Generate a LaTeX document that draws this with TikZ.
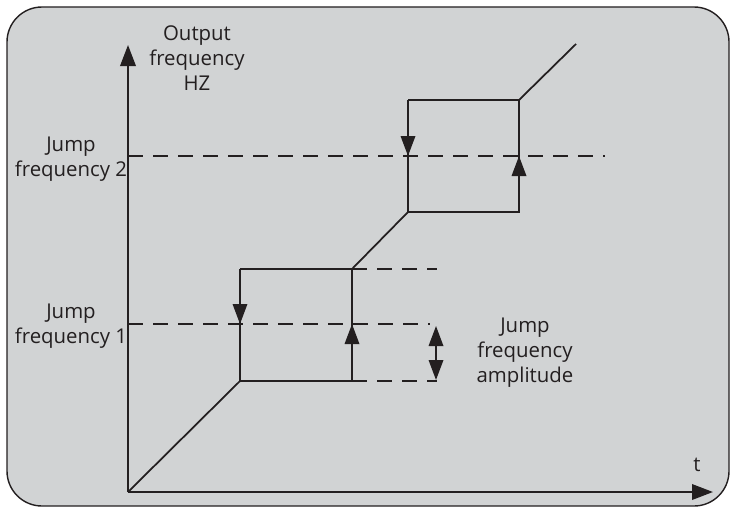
\documentclass[tikz,border=0pt]{standalone}
\usepackage{fontspec}
\setmainfont{Open Sans}
\usepackage{tikz}
\usetikzlibrary{arrows.meta, calc}
\definecolor{panel}{HTML}{D1D3D4}
\definecolor{ink}{HTML}{231F20}

\begin{document}
\begin{tikzpicture}[
  axis/.style={draw=ink, line width=1.1pt, -{Triangle[length=0.42cm, width=0.31cm]}},
  curve/.style={draw=ink, line width=1pt},
  jump/.style={draw=ink, line width=0.9pt, dash pattern=on 0.3cm off 0.2cm},
  tip/.style={-{Triangle[length=0.4cm, width=0.29cm]}},
  twotip/.style={{Triangle[length=0.4cm, width=0.29cm]}-{Triangle[length=0.4cm, width=0.29cm]}},
  lbl/.style={font=\fontsize{11.6}{14.2}\selectfont, text=ink, align=center},
]
  \useasboundingbox (0,0) rectangle (14.62,10.18);
  \draw[ink, line width=0.8pt, fill=panel, rounded corners=0.7cm] (0.14,0.06) rectangle (14.58,10.04);

  % key points
  \coordinate (O)   at (2.56,0.34);
  \coordinate (ytop) at (2.56,9.28);
  \coordinate (xend) at (14.26,0.34);
  \coordinate (j1)  at (2.56,3.70);
  \coordinate (j2)  at (2.56,7.06);
  \coordinate (lbl) at (4.80,2.56);
  \coordinate (ltl) at (4.80,4.80);
  \coordinate (ltr) at (7.04,4.80);
  \coordinate (lbr) at (7.04,2.56);
  \coordinate (ubl) at (8.16,5.94);
  \coordinate (utl) at (8.16,8.18);
  \coordinate (utr) at (10.38,8.18);
  \coordinate (ubr) at (10.38,5.94);
  \coordinate (fend) at (11.52,9.30);

  % jump lines
  \draw[jump] (j2) -- (12.10,7.06);
  \draw[jump] (j1) -- (8.60,3.70);
  \draw[jump] (ltr) -- (8.74,4.80);
  \draw[jump] (lbr) -- (8.74,2.56);

  % frequency curve
  \draw[curve] (O) -- (lbl) -- (lbr) -- (ltr) -- (ubl) -- (ubr) -- (utr) -- (fend);
  \draw[curve] (ltl) -- (ltr);
  \draw[curve] (ltl) -- (lbl);
  \draw[curve] (utl) -- (utr);
  \draw[curve] (utl) -- (ubl);

  \draw[curve, tip] (ltl) -- (ltl |- j1);
  \draw[curve, tip] (lbr) -- (lbr |- j1);
  \draw[curve, tip] (utl) -- (utl |- j2);
  \draw[curve, tip] (ubr) -- (ubr |- j2);

  % amplitude
  \draw[curve, twotip] (8.72,3.66) -- (8.72,2.58);

  % axes
  \draw[axis] (O) -- (ytop);
  \draw[axis] (O) -- (xend);

  \node[lbl] (yname) at (3.94,9.02) {Output\\frequency\\HZ};
  \node[lbl] (f2) at (1.42,7.00) {Jump\\frequency 2};
  \node[lbl] (f1) at (1.42,3.66) {Jump\\frequency 1};
  \node[lbl] (amp) at (10.50,3.12) {Jump\\frequency\\amplitude};
  \node[lbl] (tname) at (13.94,0.88) {t};
\end{tikzpicture}
\end{document}
